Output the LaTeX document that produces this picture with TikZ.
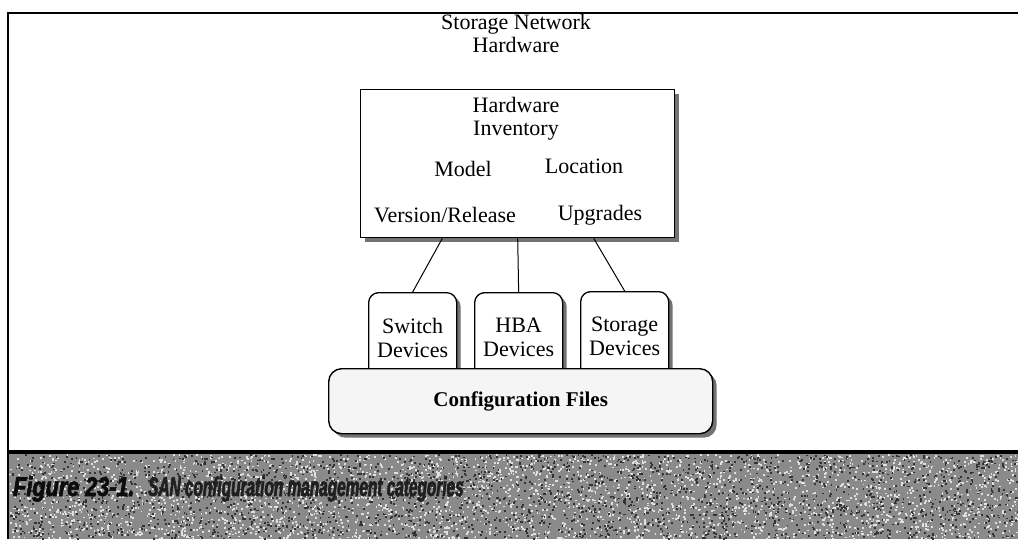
\documentclass[tikz,border=0pt]{standalone}
\usepackage{fontspec}
\setmainfont{Liberation Serif}
\newfontfamily\capfont[FakeStretch=0.57,FakeBold=2]{Liberation Sans}
\newfontfamily\figfont[FakeStretch=0.8,FakeBold=2.5]{Liberation Sans}
\usetikzlibrary{shadows,calc}
\begin{document}
\begin{tikzpicture}[x=1pt,y=-1pt,
  txt/.style={font=\fontsize{22}{24}\selectfont, inner sep=0pt, anchor=base},
  shadowed/.style={drop shadow={shadow xshift=4pt, shadow yshift=-4pt, fill=black!55, opacity=1}},
  hwbox/.style={draw=black, line width=1.4pt, fill=white, shadowed, inner sep=0pt},
  devbox/.style={draw=black, line width=1.3pt, fill=white, rounded corners=10pt, shadowed,
    inner sep=0pt, minimum width=88pt, minimum height=90pt, anchor=north west,
    align=center, font=\fontsize{22}{24}\selectfont},
  cfgbox/.style={draw=black, line width=1.4pt, fill=black!4, rounded corners=13pt, shadowed,
    inner sep=0pt, minimum width=384pt, minimum height=65pt, anchor=north west,
    font=\fontsize{21}{24}\selectfont\bfseries},
  link/.style={line width=1pt},
  captxt/.style={inner sep=0pt, anchor=base west}
]
\useasboundingbox (0,0) rectangle (1018,539);
\fill[white] (0,0) rectangle (1018,539);

% page frame
\draw[line width=2.4pt] (7,13) -- (1018,13);
\draw[line width=1.6pt] (8,13) -- (8,539);

% title over the inventory box
\node[txt] (t1) at (516,29) {Storage Network};
\node[txt] (t2) at (516,52) {Hardware};

% hardware inventory box
\node[hwbox, minimum width=314pt, minimum height=148pt, anchor=north west] (hw) at (360,89) {};
\node[txt] (h1) at (516,112) {Hardware};
\node[txt] (h2) at (516,135) {Inventory};
\node[txt] (m)  at (463,176) {Model};
\node[txt] (lo) at (584,173) {Location};
\node[txt] (vr) at (445,222) {Version/Release};
\node[txt] (up) at (600,220) {Upgrades};

% device boxes
\node[devbox] (sw)  at (368,292) {Switch\\Devices};
\node[devbox] (hba) at (474,292) {HBA\\Devices};
\node[devbox] (st)  at (580,291) {Storage\\Devices};

% configuration files base
\node[cfgbox] (cfg) at (328,368) {Configuration Files};

% connectors
\draw[link] ($(hw.south west)!0.261!(hw.south east)$) -- (sw.north);
\draw[link] (hw.south) -- (hba.north);
\draw[link] ($(hw.south west)!0.741!(hw.south east)$) -- (st.north);

% caption band
\fill[black!46] (8,452) rectangle (1018,539);
\pgfmathsetseed{23}
\foreach \i in {1,...,3200}{
  \fill[white!88!black] ({9+1008*rnd},{454+84*rnd}) rectangle +(1.8,1.8);
}
\foreach \i in {1,...,2400}{
  \fill[black!80] ({9+1008*rnd},{454+84*rnd}) rectangle +(1.8,1.8);
}
\draw[line width=4.5pt] (7,452) -- (1018,452);
\draw[line width=1.6pt] (8,452) -- (8,539);
\node[captxt, text=black!95, font=\figfont\fontsize{27}{30}\selectfont\bfseries\itshape] (fig) at (13,496) {Figure 23-1.};
\node[captxt, text=black!88, font=\capfont\fontsize{27}{30}\selectfont\bfseries\itshape] (cap) at (148,496) {SAN configuration management categories};
\end{tikzpicture}
\end{document}
